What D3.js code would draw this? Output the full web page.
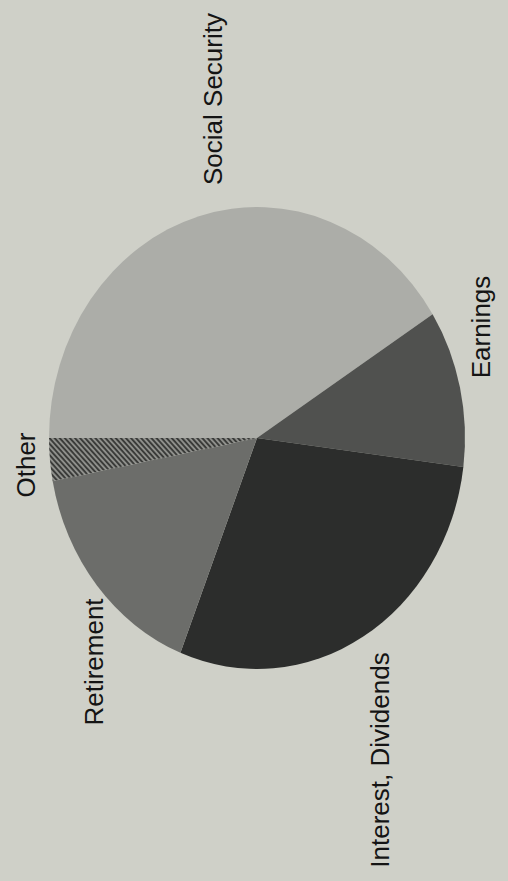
<!DOCTYPE html>
<html>
<head>
<meta charset="utf-8">
<script src="https://cdn.jsdelivr.net/npm/d3@7"></script>
<style>
  html, body { margin: 0; padding: 0; background: #cfd0c8; }
  svg { display: block; }
</style>
</head>
<body>
<script>
// ---- data ----
const categories = ["Social Security", "Earnings", "Interest, Dividends", "Retirement", "Other"];
const values = [41, 11, 29, 16, 3];

// ---- layout / style ----
const W = 508, H = 881;
const cx = 257, cy = 438, ry = 231, rx = 208;
const fills = {
  "Social Security": "#acada8",
  "Earnings": "#50514f",
  "Interest, Dividends": "#2c2d2c",
  "Retirement": "#6c6d6a",
  "Other": "url(#hatch)"
};
// label anchor: baseline x, centre y (text rotated -90deg)
const labelPos = {
  "Social Security": [222, 99],
  "Earnings": [490, 327],
  "Interest, Dividends": [389, 760],
  "Retirement": [103, 662],
  "Other": [35, 465]
};

const svg = d3.select("body").append("svg").attr("width", W).attr("height", H);
svg.append("rect").attr("width", W).attr("height", H).attr("fill", "#cfd0c8");

const defs = svg.append("defs");
const pat = defs.append("pattern").attr("id", "hatch")
  .attr("patternUnits", "userSpaceOnUse").attr("width", 4).attr("height", 4)
  .attr("patternTransform", "rotate(-45)");
pat.append("rect").attr("width", 4).attr("height", 4).attr("fill", "#8e8f8b");
pat.append("rect").attr("width", 2).attr("height", 4).attr("fill", "#3a3b39");

const data = categories.map((c, i) => ({ name: c, value: values[i] }));
const pie = d3.pie().value(d => d.value).sort(null)
  .startAngle(-Math.PI / 2).endAngle(3 * Math.PI / 2);
const arc = d3.arc().innerRadius(0).outerRadius(ry);

const g = svg.append("g").attr("transform", `translate(${cx},${cy}) scale(${rx / ry},1)`);
g.selectAll("path").data(pie(data)).join("path")
  .attr("d", arc)
  .attr("fill", d => fills[d.data.name])
  .attr("stroke", "none");

svg.selectAll("text.lbl").data(categories).join("text")
  .attr("class", "lbl")
  .attr("transform", d => `translate(${labelPos[d][0]},${labelPos[d][1]}) rotate(-90)`)
  .attr("text-anchor", "middle")
  .attr("font-family", "'Liberation Sans', Arial, sans-serif")
  .attr("font-size", 26)
  .attr("fill", "#141414")
  .text(d => d);
</script>
</body>
</html>
